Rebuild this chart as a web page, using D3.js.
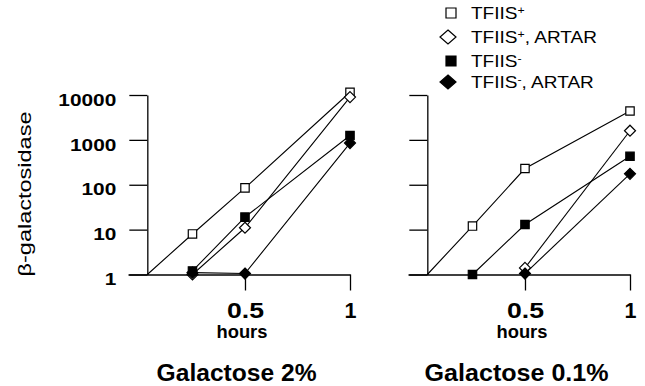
<!DOCTYPE html>
<html>
<head>
<meta charset="utf-8">
<script src="https://cdn.jsdelivr.net/npm/d3@7"></script>
<style>
  body { margin: 0; background: #fff; }
  svg { display: block; font-family: "Liberation Sans", Arial, Helvetica, sans-serif; }
</style>
</head>
<body>
<svg id="chart" width="645" height="386"></svg>
<script>
// time points (hours); the first one is where the curves leave the axis
const hours = [0.035, 0.25, 0.5, 1];

// Galactose 2%
const gal2Plus = [1, 8, 85, 11500];
const gal2PlusArtar = [null, 1.0, 11, 9000];
const gal2Minus = [null, 1.2, 19, 1250];
const gal2MinusArtar = [null, 1.1, 1.05, 850];

// Galactose 0.1%
const gal01Plus = [1, 12, 230, 4400];
const gal01PlusArtar = [null, null, 1.4, 1600];
const gal01Minus = [null, 1, 13, 430];
const gal01MinusArtar = [null, null, 1.05, 175];

const yTicks = [1, 10, 100, 1000, 10000];
const xTicks = [0.5, 1];
const panelTitles = ["Galactose 2%", "Galactose 0.1%"];
const legendLabels = [["TFIIS", "+", ""], ["TFIIS", "+", ", ARTAR"], ["TFIIS", "-", ""], ["TFIIS", "-", ", ARTAR"]];
const markerKinds = ["openSquare", "openDiamond", "filledSquare", "filledDiamond"];

const svg = d3.select("#chart");

function marker(sel, kind, half) {
  const filled = kind.startsWith("filled");
  const isDiamond = kind.endsWith("Diamond");
  const h = half;
  const d = isDiamond
    ? `M0,${-h[1]}L${h[0]},0L0,${h[1]}L${-h[0]},0Z`
    : `M${-h[0]},${-h[0]}H${h[0]}V${h[0]}H${-h[0]}Z`;
  sel.append("path")
    .attr("d", d)
    .attr("fill", filled ? "#000" : "#fff")
    .attr("stroke", "#000")
    .attr("stroke-width", 1.2);
}

function drawPanel(x0, series, showLabels, title, titleWidth) {
  const g = svg.append("g");

  const x = d3.scaleLinear().domain([-0.057, 1]).range([x0 - 12, x0 + 210]);
  const y = d3.scaleLog().domain([1, 10000]).range([274.5, 95]);
  const axisX = x(hours[0]);

  // y axis
  const yAxis = g.append("g")
    .attr("transform", `translate(${axisX},0)`)
    .call(d3.axisLeft(y)
      .tickValues(yTicks)
      .tickSize(18)
      .tickSizeOuter(0)
      .tickPadding(13)
      .tickFormat(showLabels ? d3.format("d") : ""));
  yAxis.selectAll("text")
    .attr("font-size", 17)
    .attr("font-weight", "bold")
    .attr("fill", "#000")
    .attr("font-family", "Liberation Sans, Arial, sans-serif")
    .attr("dy", "0.6em")
    .attr("textLength", d => String(d).length * 11.6)
    .attr("lengthAdjust", "spacingAndGlyphs");

  // x axis
  const xAxis = g.append("g")
    .attr("transform", `translate(0,${y(1)})`)
    .call(d3.axisBottom(x)
      .tickValues(xTicks)
      .tickSize(16)
      .tickSizeOuter(0)
      .tickPadding(12)
      .tickFormat(d3.format("")));
  xAxis.selectAll("text")
    .attr("font-size", 22)
    .attr("font-weight", "bold")
    .attr("fill", "#000")
    .attr("font-family", "Liberation Sans, Arial, sans-serif")
    .attr("textLength", d => d === 1 ? 12 : 37)
    .attr("lengthAdjust", "spacingAndGlyphs");

  g.selectAll(".domain, .tick line")
    .attr("stroke", "#000")
    .attr("stroke-width", 1.3);

  g.append("text")
    .attr("x", x(0.5) - 3)
    .attr("y", 338)
    .attr("text-anchor", "middle")
    .attr("font-size", 18)
    .attr("font-weight", "bold")
    .attr("textLength", 51)
    .attr("lengthAdjust", "spacingAndGlyphs")
    .text("hours");

  g.append("text")
    .attr("x", x(0.46))
    .attr("y", 381)
    .attr("text-anchor", "middle")
    .attr("font-size", 23)
    .attr("font-weight", "bold")
    .attr("textLength", titleWidth)
    .attr("lengthAdjust", "spacingAndGlyphs")
    .text(title);

  const line = d3.line()
    .x(d => x(d.h))
    .y(d => y(d.v));

  series.forEach(vals => {
    const pts = hours.map((h, j) => ({ h, v: vals[j] })).filter(d => d.v !== null);
    g.append("path")
      .attr("d", line(pts))
      .attr("fill", "none")
      .attr("stroke", "#000")
      .attr("stroke-width", 1.1);
  });

  series.forEach((vals, i) => {
    const pts = hours.map((h, j) => ({ h, v: vals[j] }))
      .filter((d, j) => d.v !== null && j > 0);
    pts.forEach(p => {
      const m = g.append("g").attr("transform", `translate(${x(p.h)},${y(p.v)})`);
      const kind = markerKinds[i];
      marker(m, kind, kind.endsWith("Diamond") ? [5.5, 5.5] : [4.2]);
    });
  });
}

drawPanel(140, [gal2Plus, gal2PlusArtar, gal2Minus, gal2MinusArtar], true, panelTitles[0], 160);
drawPanel(420, [gal01Plus, gal01PlusArtar, gal01Minus, gal01MinusArtar], false, panelTitles[1], 184);

// y title
svg.append("text")
  .attr("transform", "translate(31,194) rotate(-90)")
  .attr("text-anchor", "middle")
  .attr("font-size", 19)
  .attr("textLength", 165)
  .attr("lengthAdjust", "spacingAndGlyphs")
  .text("β-galactosidase");

// legend
const legendBaselines = [19, 43, 67, 88];
legendLabels.forEach((lab, i) => {
  const row = svg.append("g").attr("transform", `translate(0,${legendBaselines[i]})`);
  const kind = markerKinds[i];
  const m = row.append("g").attr("transform", `translate(${kind.endsWith("Diamond") ? 448 : 451},-6)`);
  marker(m, kind, kind.endsWith("Diamond") ? [8, 7] : [5]);
  const t = row.append("text")
    .attr("transform", "translate(471,0) scale(1.12,1)")
    .attr("font-size", 17);
  t.append("tspan").text(lab[0]);
  t.append("tspan")
    .attr("font-size", 11)
    .attr("dy", -5)
    .text(lab[1]);
  t.append("tspan")
    .attr("dy", 5)
    .text(lab[2]);
});
</script>
</body>
</html>
